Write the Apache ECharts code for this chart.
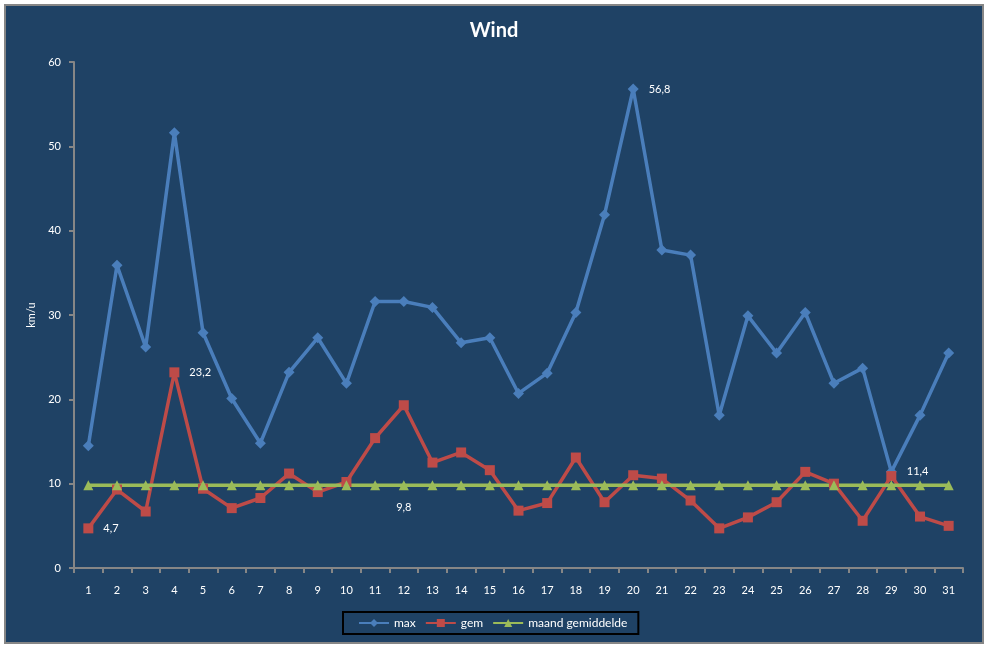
<!DOCTYPE html>
<html>
<head>
<meta charset="utf-8">
<script src="https://cdn.jsdelivr.net/npm/echarts@6/dist/echarts.min.js"></script>
<style>
  html, body { margin: 0; padding: 0; background: #fff; }
  #chart {
    position: absolute; left: 4px; top: 4px;
    width: 976px; height: 636px;
    border: 2px solid #868686;
    background: #1F4265;
  }
</style>
</head>
<body>
<div id="chart"></div>
<script>
// dagen van de maand
const days = ['1','2','3','4','5','6','7','8','9','10','11','12','13','14','15','16',
  '17','18','19','20','21','22','23','24','25','26','27','28','29','30','31'];

// windsnelheid km/u
const maxWind = [14.5, 35.9, 26.2, 51.6, 27.9, 20.1, 14.8, 23.2, 27.3, 21.9, 31.6, 31.6, 30.9, 26.7, 27.3, 20.7,
  23.1, 30.3, 41.9, 56.8, 37.7, 37.1, 18.1, 29.9, 25.5, 30.3, 21.9, 23.7, 11.4, 18.1, 25.5];
const gemWind = [4.7, 9.3, 6.7, 23.2, 9.4, 7.1, 8.3, 11.2, 9.0, 10.2, 15.4, 19.3, 12.5, 13.7, 11.6, 6.8,
  7.7, 13.1, 7.8, 11.0, 10.6, 8.0, 4.7, 6.0, 7.8, 11.4, 10.0, 5.6, 10.9, 6.1, 5.0];
const maandGem = [9.8, 9.8, 9.8, 9.8, 9.8, 9.8, 9.8, 9.8, 9.8, 9.8, 9.8, 9.8, 9.8, 9.8, 9.8, 9.8,
  9.8, 9.8, 9.8, 9.8, 9.8, 9.8, 9.8, 9.8, 9.8, 9.8, 9.8, 9.8, 9.8, 9.8, 9.8];

// welke punten een label krijgen
const maxLabels = [19, 28];
const gemLabels = [0, 3];
const gemiddeldeLabels = [11];

const FONT = 'Lato';
const fmt = p => String(p.value).replace('.', ',');

function withLabels(values, idx, position, distance) {
  return values.map((v, i) => idx.includes(i)
    ? { value: v, label: { show: true, position, distance, color: '#fff', fontSize: 11, fontFamily: FONT, formatter: fmt } }
    : v);
}

const chart = echarts.init(document.getElementById('chart'));
chart.setOption({
  backgroundColor: '#1F4265',
  animation: false,
  title: {
    text: 'Wind', left: 'center', top: 15, padding: 0,
    textStyle: { color: '#fff', fontSize: 20, fontWeight: 'bold', fontFamily: FONT }
  },
  grid: { left: 68, right: 19, top: 56, bottom: 74 },
  legend: {
    left: 337, top: 606,
    padding: [5, 11, 5, 15],
    borderColor: '#000', borderWidth: 2,
    itemWidth: 30, itemHeight: 10, itemGap: 9,
    textStyle: { color: '#fff', fontSize: 12, fontFamily: FONT },
    data: ['max', 'gem', 'maand gemiddelde']
  },
  xAxis: {
    type: 'category', data: days, boundaryGap: true,
    axisLine: { lineStyle: { color: '#868686', width: 2 } },
    axisTick: { show: true, length: 5, lineStyle: { color: '#868686', width: 2 } },
    axisLabel: { color: '#fff', fontSize: 11, fontFamily: FONT, margin: 17, interval: 0 },
    splitLine: { show: false }
  },
  yAxis: {
    type: 'value', min: 0, max: 60, interval: 10,
    name: 'km/u', nameLocation: 'middle', nameGap: 37, nameRotate: 90,
    nameTextStyle: { color: '#fff', fontSize: 11, fontFamily: FONT },
    axisLine: { show: true, lineStyle: { color: '#868686', width: 2 } },
    axisTick: { show: true, length: 5, lineStyle: { color: '#868686', width: 2 } },
    axisLabel: { color: '#fff', fontSize: 11, fontFamily: FONT, margin: 13 },
    splitLine: { show: false }
  },
  series: [
    {
      name: 'max', type: 'line',
      data: withLabels(maxWind, maxLabels, 'right', 10),
      symbol: 'diamond', symbolSize: 11,
      lineStyle: { color: '#4A7EBB', width: 3.5 },
      itemStyle: { color: '#4A7EBB' }
    },
    {
      name: 'gem', type: 'line',
      data: withLabels(gemWind, gemLabels, 'right', 10),
      symbol: 'rect', symbolSize: 10,
      lineStyle: { color: '#BE4B48', width: 3.5 },
      itemStyle: { color: '#BE4B48' }
    },
    {
      name: 'maand gemiddelde', type: 'line',
      data: withLabels(maandGem, gemiddeldeLabels, 'bottom', 12),
      symbol: 'triangle', symbolSize: 10,
      lineStyle: { color: '#9BBB59', width: 3.5 },
      itemStyle: { color: '#9BBB59' }
    }
  ]
});
</script>
</body>
</html>
